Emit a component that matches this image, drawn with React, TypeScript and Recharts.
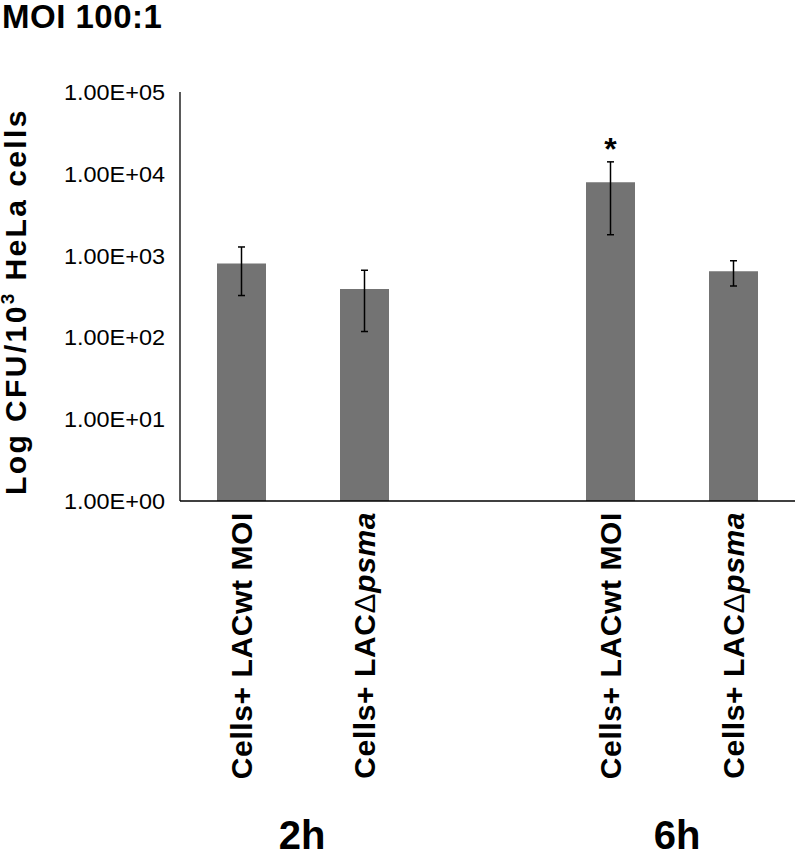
import { Bar, BarChart, ErrorBar, Label, ReferenceDot, XAxis, YAxis } from "recharts";

const keys = ["2h-wt", "2h-psma", "gap", "6h-wt", "6h-psma"];
const strains = ["Cells+ LACwt MOI", "Cells+ LAC\u0394psma", "", "Cells+ LACwt MOI", "Cells+ LAC\u0394psma"];
const cfu = [800, 390, null, 7900, 645];
const sd = [475, 272, null, 6100, 220];
const groups = ["2h", "6h"];
const yTicks = [1, 10, 100, 1000, 10000, 100000];
const starKey = "6h-wt";

const data = keys.map((key, i) => ({ key, label: strains[i], cfu: cfu[i], sd: sd[i] }));
const star = data.find((d) => d.key === starKey)!;

const FONT = "'Liberation Sans', Arial, sans-serif";
const PLOT_LEFT = 180;

const sci = (v: number) => {
  const exp = Math.round(Math.log10(v));
  const mant = (v / Math.pow(10, exp)).toFixed(2);
  return `${mant}E+${String(exp).padStart(2, "0")}`;
};

// tick label ends 15px left of the axis line, like the Excel original
function ValueTick({ y, payload }: any) {
  return (
    <text
      x={PLOT_LEFT - 15}
      y={y}
      dy={8}
      textAnchor="end"
      textLength={101}
      lengthAdjust="spacingAndGlyphs"
      style={{ fontSize: 22, fontFamily: FONT }}
      fill="#000"
    >
      {sci(payload.value)}
    </text>
  );
}

function StrainTick({ x, y, payload }: any) {
  const label = strains[keys.indexOf(payload.value)];
  if (!label) return <g />;
  const bx = x + 10;
  const by = y + 3;
  const [pre, post] = label.split("\u0394");
  return (
    <text
      x={bx}
      y={by}
      transform={`rotate(-90 ${bx} ${by})`}
      textAnchor="end"
      fontSize={30}
      fontWeight="bold"
      letterSpacing={0.6}
      fontFamily={FONT}
      fill="#000"
    >
      {post === undefined ? (
        label
      ) : (
        <>
          {pre}
          <tspan fontWeight="normal">{"\u0394"}</tspan>
          <tspan fontStyle="italic">{post}</tspan>
        </>
      )}
    </text>
  );
}

function YTitle({ viewBox }: any) {
  const cx = 26;
  const cy = viewBox.y + viewBox.height / 2 + 5;
  return (
    <text
      x={cx}
      y={cy}
      transform={`rotate(-90 ${cx} ${cy})`}
      textAnchor="middle"
      fontSize={30}
      fontWeight="bold"
      fontFamily={FONT}
      letterSpacing={2.4}
      fill="#000"
    >
      Log CFU/10
      <tspan dy={-12} fontSize={19}>3</tspan>
      <tspan dy={12}> HeLa cells</tspan>
    </text>
  );
}

function Star({ viewBox }: any) {
  return (
    <text
      x={viewBox.x + viewBox.width / 2}
      y={viewBox.y - 2}
      textAnchor="middle"
      fontSize={32}
      fontWeight="bold"
      fontFamily={FONT}
      fill="#000"
    >
      *
    </text>
  );
}

export default function App() {
  return (
    <div style={{ position: "absolute", left: 0, top: 0, width: 798, height: 854, background: "#fff" }}>
      <BarChart
        width={798}
        height={854}
        data={data}
        margin={{ top: 92, right: 3, bottom: 0, left: 0 }}
        barSize={49}
      >
        <XAxis
          dataKey="key"
          height={353}
          interval={0}
          tickLine={false}
          axisLine={{ stroke: "#000", strokeWidth: 1.3 }}
          tick={<StrainTick />}
        />
        <YAxis
          scale="log"
          domain={[1, 100000]}
          ticks={yTicks}
          allowDataOverflow
          width={PLOT_LEFT}
          tickLine={false}
          axisLine={{ stroke: "#000", strokeWidth: 1.3 }}
          tick={<ValueTick />}
          label={<Label content={<YTitle />} />}
        />
        <Bar dataKey="cfu" fill="#737373" isAnimationActive={false}>
          <ErrorBar dataKey="sd" width={3.5} stroke="#000" strokeWidth={1.5} />
        </Bar>
        <ReferenceDot
          x={star.key}
          y={(star.cfu ?? 0) + (star.sd ?? 0)}
          r={0}
          fill="none"
          stroke="none"
          label={<Label content={<Star />} />}
        />
      </BarChart>
      <svg
        width={798}
        height={854}
        style={{ position: "absolute", left: 0, top: 0, pointerEvents: "none" }}
      >
        <text x={2} y={28} fontSize={33} letterSpacing={0.5} fontWeight="bold" fontFamily={FONT} fill="#000">
          MOI 100:1
        </text>
        <text x={302} y={849} textAnchor="middle" fontSize={40} fontWeight="bold" fontFamily={FONT} fill="#000">
          {groups[0]}
        </text>
        <text x={677} y={849} textAnchor="middle" fontSize={40} fontWeight="bold" fontFamily={FONT} fill="#000">
          {groups[1]}
        </text>
      </svg>
    </div>
  );
}
